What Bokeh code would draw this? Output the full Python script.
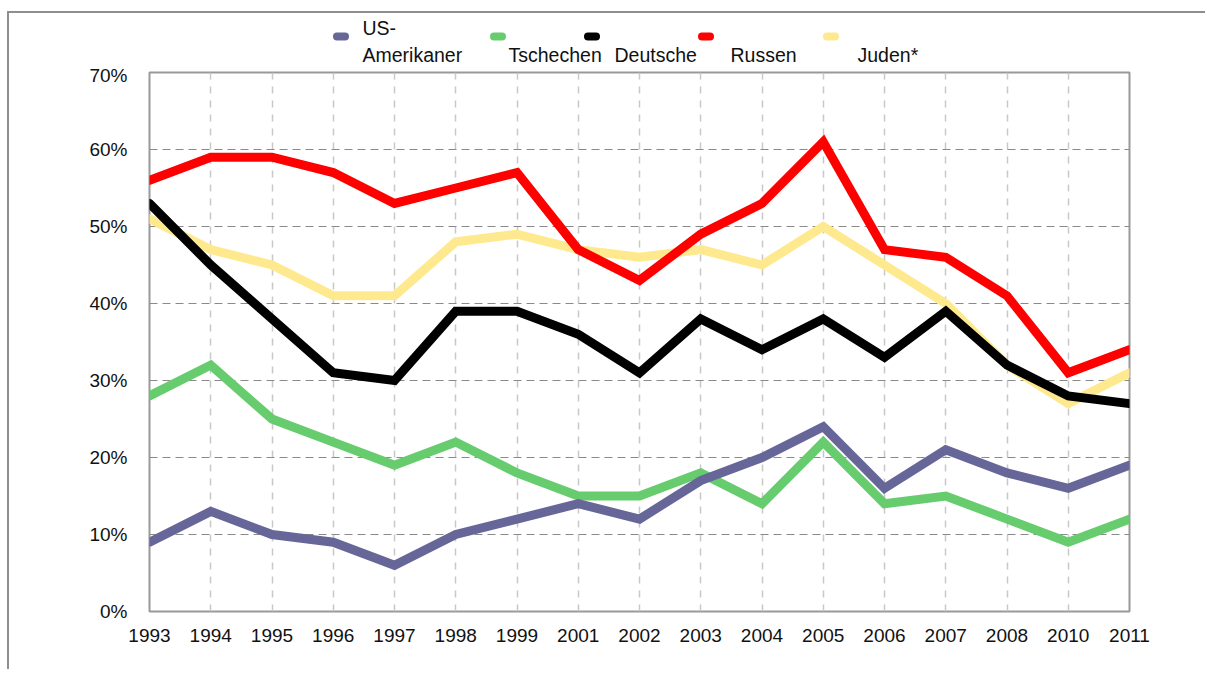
from bokeh.plotting import figure
from bokeh.layouts import column
from bokeh.models import FixedTicker, Range1d, PrintfTickFormatter
from bokeh.core.properties import value
from bokeh.embed import file_html
from bokeh.resources import INLINE

years = ["1993", "1994", "1995", "1996", "1997", "1998", "1999", "2001", "2002",
         "2003", "2004", "2005", "2006", "2007", "2008", "2010", "2011"]
us_amerikaner = [9, 13, 10, 9, 6, 10, 12, 14, 12, 17, 20, 24, 16, 21, 18, 16, 19]
tschechen = [28, 32, 25, 22, 19, 22, 18, 15, 15, 18, 14, 22, 14, 15, 12, 9, 12]
deutsche = [53, 45, 38, 31, 30, 39, 39, 36, 31, 38, 34, 38, 33, 39, 32, 28, 27]
russen = [56, 59, 59, 57, 53, 55, 57, 47, 43, 49, 53, 61, 47, 46, 41, 31, 34]
juden = [51, 47, 45, 41, 41, 48, 49, 47, 46, 47, 45, 50, 45, 40, 32, 27, 31]
y_ticks = [0, 10, 20, 30, 40, 50, 60, 70]

series_names = ["US-Amerikaner", "Tschechen", "Deutsche", "Russen", "Juden*"]
series_colors = ["#666699", "#66CC6E", "#000000", "#FF0000", "#FFE98F"]
series_values = [us_amerikaner, tschechen, deutsche, russen, juden]
# legend text lines (first line, second line)
legend_lines = [("US-", "Amerikaner"), ("", "Tschechen"), ("", "Deutsche"), ("", "Russen"), ("", "Juden*")]

W = 1196
X0, Y0 = 9, 14          # canvas origin on the page
LEG_H = 51
FONT = "Liberation Sans"
frame_left, frame_right = 149, 1129

# ---------------- legend strip ----------------
# the column aligns the frames of both figures, so the strip's frame spans frame_left..frame_right
leg = figure(width=W, height=LEG_H, output_backend="svg", toolbar_location=None,
             x_range=Range1d(frame_left, frame_right), y_range=Range1d(Y0 + LEG_H, Y0),
             min_border=0, x_axis_type=None, y_axis_type=None)
leg.outline_line_color = None
leg.grid.visible = False
leg.background_fill_color = "white"
leg.border_fill_color = "white"

# layout of legend entries: marker left, label left (page px)
marker_left = [332, 489, 583, 697, 822]
label_left = [362, 508, 614, 730, 857]
marker_y, line1_y, line2_y = 37, 28, 55

leg.segment(x0=[m + 4.5 for m in marker_left], x1=[m + 12.5 for m in marker_left],
            y0=[marker_y] * 5, y1=[marker_y] * 5,
            line_color=series_colors, line_width=8, line_cap="round")
leg.text(x=label_left, y=[line1_y] * 5, text=[a for a, b in legend_lines],
         text_font=value(FONT), text_font_size="19.5px", text_color="#111111",
         text_baseline="middle", text_align="left")
leg.text(x=label_left, y=[line2_y] * 5, text=[b for a, b in legend_lines],
         text_font=value(FONT), text_font_size="19.5px", text_color="#111111",
         text_baseline="middle", text_align="left")

# ---------------- main chart ----------------
xs = list(range(len(years)))
p = figure(width=W, height=605, output_backend="svg", toolbar_location=None,
           x_range=Range1d(0, len(years) - 1), y_range=Range1d(0, 70),
           min_border_left=frame_left - X0, min_border_top=8,
           min_border_right=X0 + W - frame_right, min_border_bottom=58)

p.outline_line_color = "#999999"
p.outline_line_width = 2
p.background_fill_color = "white"
p.border_fill_color = "white"

p.xaxis.ticker = FixedTicker(ticks=xs)
p.xaxis.major_label_overrides = {i: y for i, y in enumerate(years)}
p.yaxis.ticker = FixedTicker(ticks=y_ticks)
p.yaxis.formatter = PrintfTickFormatter(format="%d%%")
for ax in (p.xaxis, p.yaxis):
    ax.axis_line_color = None
    ax.major_tick_line_color = None
    ax.minor_tick_line_color = None
    ax.major_label_text_font = FONT
    ax.major_label_text_font_size = "19px"
    ax.major_label_text_color = "#111111"
p.xaxis.major_label_standoff = 11
p.yaxis.major_label_standoff = 16

p.xgrid.ticker = FixedTicker(ticks=xs)
p.xgrid.grid_line_color = "#c8c8c8"
p.xgrid.grid_line_dash = "7 7"
p.xgrid.grid_line_width = 1.5
p.ygrid.grid_line_color = "#8a8a8a"
p.ygrid.grid_line_dash = "8 5"
p.ygrid.grid_line_width = 1

# drawing order (bottom to top)
for idx in [4, 1, 0, 2, 3]:
    p.line(xs, series_values[idx], line_color=series_colors[idx], line_width=9,
           line_cap="round", line_join="miter")

layout = column(leg, p, spacing=0)
layout.styles = {"border-left": "2px solid #8e8e8e", "border-top": "2px solid #8e8e8e"}
layout.margin = (11, 0, 0, 7)

open("out.html", "w").write(file_html(layout, INLINE))
